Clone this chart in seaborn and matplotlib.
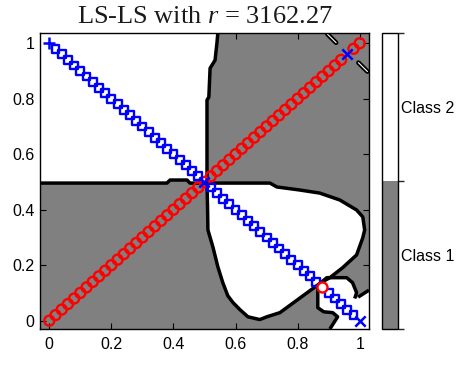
import matplotlib
matplotlib.use("Agg")
import matplotlib as mpl
import matplotlib.pyplot as plt
from matplotlib.colors import ListedColormap, BoundaryNorm
import numpy as np
import pandas as pd
import seaborn as sns

# ---------------- data ----------------
# sample positions along the two test lines
line_t = [0.00, 0.02, 0.04, 0.06, 0.08, 0.10, 0.12, 0.14, 0.16, 0.18,
          0.20, 0.22, 0.24, 0.26, 0.28, 0.30, 0.32, 0.34, 0.36, 0.38,
          0.40, 0.42, 0.44, 0.46, 0.48, 0.50, 0.52, 0.54, 0.56, 0.58,
          0.60, 0.62, 0.64, 0.66, 0.68, 0.70, 0.72, 0.74, 0.76, 0.78,
          0.80, 0.82, 0.84, 0.86, 0.88, 0.90, 0.92, 0.94, 0.96, 0.98, 1.00]
line_t_rev = [1.00, 0.98, 0.96, 0.94, 0.92, 0.90, 0.88, 0.86, 0.84, 0.82,
              0.80, 0.78, 0.76, 0.74, 0.72, 0.70, 0.68, 0.66, 0.64, 0.62,
              0.60, 0.58, 0.56, 0.54, 0.52, 0.50, 0.48, 0.46, 0.44, 0.42,
              0.40, 0.38, 0.36, 0.34, 0.32, 0.30, 0.28, 0.26, 0.24, 0.22,
              0.20, 0.18, 0.16, 0.14, 0.12, 0.10, 0.08, 0.06, 0.04, 0.02, 0.00]

# points on the diagonal drawn as blue crosses instead of red circles
diag_cross_t = [0.96]
# points on the anti-diagonal drawn with other markers
anti_plus_t = [0.00]
anti_cross_t = [0.50, 1.00]
anti_circle_t = [0.88]

# decision boundary (class 1 / class 2)
left_edge_x = [-0.03, 0.379, 0.389, 0.444, 0.453, 0.508]
left_edge_y = [0.496, 0.496, 0.507, 0.507, 0.496, 0.496]
vert_edge_x = [0.508, 0.508, 0.514, 0.518, 0.534, 0.540, 0.543]
vert_edge_y = [0.496, 0.795, 0.806, 0.910, 0.939, 1.000, 1.037]

heart_x = [0.508, 0.711, 0.733, 0.807, 0.871, 0.936, 0.990, 1.010, 1.016,
           1.010, 0.990, 0.945, 0.904, 0.875, 0.743, 0.701, 0.678, 0.640,
           0.614, 0.592, 0.575, 0.559, 0.543, 0.527, 0.511, 0.510, 0.508]
heart_y = [0.496, 0.496, 0.482, 0.471, 0.460, 0.435, 0.399, 0.374, 0.327,
           0.299, 0.237, 0.191, 0.155, 0.137, 0.029, 0.014, 0.004, 0.014,
           0.040, 0.065, 0.090, 0.137, 0.194, 0.266, 0.327, 0.400, 0.496]

pocket_top_x = [0.875, 0.894, 0.958, 0.977, 0.990, 0.984]
pocket_top_y = [0.137, 0.155, 0.155, 0.137, 0.101, 0.080]
pocket_stub_x = [0.995, 1.030]
pocket_stub_y = [0.085, 0.110]
pocket_low_x = [0.875, 0.865, 0.865, 0.884, 0.913, 0.929, 0.904]
pocket_low_y = [0.137, 0.122, 0.047, 0.032, 0.029, 0.014, -0.030]

sliver1_x = [0.896, 0.924]
sliver1_y = [1.033, 1.002]
sliver2_x = [0.996, 1.025]
sliver2_y = [0.930, 0.898]

class_labels = ["Class 1", "Class 2"]
class_colors = ["#808080", "#ffffff"]

xlim = (-0.03, 1.03)
ylim = (-0.03, 1.037)
ticks = [0, 0.2, 0.4, 0.6, 0.8, 1]
tick_labels = ["0", "0.2", "0.4", "0.6", "0.8", "1"]

# ---------------- build point tables ----------------
rows = []
for t in line_t:
    kind = "bx" if t in diag_cross_t else "ro"
    rows.append((t, t, kind))
for t, r in zip(line_t, line_t_rev):
    if t in anti_plus_t:
        kind = "b+"
    elif t in anti_cross_t:
        kind = "bx"
    elif t in anti_circle_t:
        kind = "ro2"
    else:
        kind = "bs"
    rows.append((t, r, kind))
pts = pd.DataFrame(rows, columns=["x", "y", "kind"])

# ---------------- style ----------------
sns.set_theme(style="ticks")
plt.rcParams["font.family"] = ["Liberation Sans", "DejaVu Sans"]
plt.rcParams["mathtext.fontset"] = "custom"
plt.rcParams["mathtext.it"] = "Liberation Serif:italic"
plt.rcParams["mathtext.rm"] = "Liberation Serif"

fig = plt.figure(figsize=(4.67, 3.70), dpi=100)
ax = fig.add_axes([40 / 467, 41 / 370, 329 / 467, 296 / 370])
cax = fig.add_axes([382 / 467, 41 / 370, 16 / 467, 296 / 370])

ax.set_facecolor(class_colors[0])

# white (class 2) regions
poly_a_x = left_edge_x + vert_edge_x[1:] + [xlim[0]]
poly_a_y = left_edge_y + vert_edge_y[1:] + [ylim[1]]
ax.fill(poly_a_x, poly_a_y, color=class_colors[1], lw=0, zorder=1)
ax.fill(heart_x, heart_y, color=class_colors[1], lw=0, zorder=1)
poly_c_x = pocket_top_x + pocket_stub_x + [xlim[1]] + pocket_low_x[::-1]
poly_c_y = pocket_top_y + pocket_stub_y + [ylim[0]] + pocket_low_y[::-1]
ax.fill(poly_c_x, poly_c_y, color=class_colors[1], lw=0, zorder=1)

# boundary lines
lkw = dict(color="black", lw=2.5, solid_joinstyle="round", solid_capstyle="butt", zorder=2)
for xs, ys in [(left_edge_x, left_edge_y), (vert_edge_x, vert_edge_y),
               (heart_x, heart_y), (pocket_top_x, pocket_top_y),
               (pocket_stub_x, pocket_stub_y), (pocket_low_x, pocket_low_y)]:
    ax.plot(xs, ys, **lkw)
for xs, ys in [(sliver1_x, sliver1_y), (sliver2_x, sliver2_y)]:
    ax.plot(xs, ys, color="black", lw=3.4, solid_capstyle="round", zorder=2)
    ax.plot(xs, ys, color="white", lw=0.8, zorder=2)

# markers
sns.scatterplot(data=pts[pts.kind == "ro"], x="x", y="y", ax=ax, marker="o",
                s=52, facecolor="none", edgecolor="#ff0000", linewidth=1.7,
                zorder=3, legend=False)
sns.scatterplot(data=pts[pts.kind == "bs"], x="x", y="y", ax=ax, marker="s",
                s=32, facecolor="none", edgecolor="#0000ff", linewidth=1.7,
                zorder=4, legend=False)
sns.scatterplot(data=pts[pts.kind == "ro2"], x="x", y="y", ax=ax, marker="o",
                s=52, facecolor="white", edgecolor="#ff0000", linewidth=1.7,
                zorder=5, legend=False)
sns.scatterplot(data=pts[pts.kind == "bx"], x="x", y="y", ax=ax, marker="x",
                s=55, color="#0000ff", linewidth=1.8, zorder=5, legend=False)
sns.scatterplot(data=pts[pts.kind == "b+"], x="x", y="y", ax=ax, marker="+",
                s=65, color="#0000ff", linewidth=1.8, zorder=5, legend=False)

ax.set_xlim(*xlim)
ax.set_ylim(*ylim)
ax.set_xticks(ticks)
ax.set_xticklabels(tick_labels)
ax.set_yticks(ticks)
ax.set_yticklabels(tick_labels)
ax.set_xlabel("")
ax.set_ylabel("")
ax.tick_params(direction="in", length=4, width=0.8, labelsize=11.5,
               top=True, right=True, color="black", labelcolor="black")
ax.tick_params(axis="x", pad=6)
ax.tick_params(axis="y", pad=4)
for sp in ax.spines.values():
    sp.set_visible(True)
    sp.set_color("black")
    sp.set_linewidth(1.0)

ax.set_title("LS-LS with $r$ = 3162.27", fontsize=19,
             family=["Liberation Serif", "DejaVu Serif"], color="#1a1a1a", pad=7)

# colorbar
cmap = ListedColormap(class_colors)
norm = BoundaryNorm([1, 1.5, 2], 2)
sm = mpl.cm.ScalarMappable(norm=norm, cmap=cmap)
cb = fig.colorbar(sm, cax=cax, ticks=[1.25, 1.75])
cb.set_ticklabels(class_labels)
cb.outline.set_edgecolor("black")
cb.outline.set_linewidth(1.0)
cax.tick_params(direction="in", length=4, width=0.8, labelsize=11.5,
                left=True, right=True, pad=2, color="black", labelcolor="black")

fig.savefig("out.png", dpi=100)
